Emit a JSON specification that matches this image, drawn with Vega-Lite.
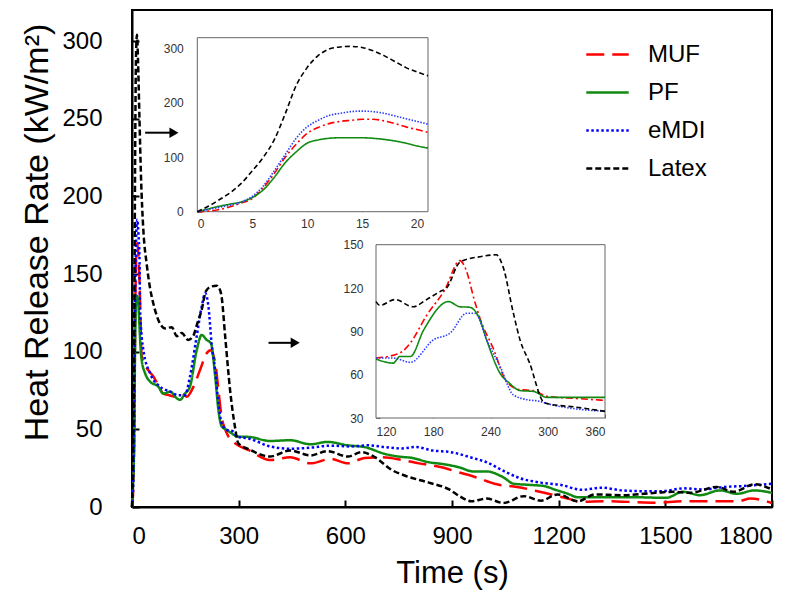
{
  "$schema": "https://vega.github.io/schema/vega-lite/v6.json",
  "width": 640,
  "height": 497,
  "autosize": {"type": "none"},
  "padding": {"left": 132, "top": 10, "right": 29, "bottom": 85},
  "background": "white",
  "config": {
    "font": "Liberation Sans",
    "view": {"stroke": "black", "strokeWidth": 2},
    "legend": {
      "orient": "none",
      "legendX": 453,
      "legendY": 22,
      "symbolType": "stroke",
      "symbolSize": 1800,
      "symbolStrokeWidth": 2.5,
      "labelFontSize": 24,
      "labelFont": "Liberation Sans",
      "labelColor": "black",
      "labelOffset": 18,
      "rowPadding": 3,
      "padding": 0
    }
  },
  "datasets": {
    "main": [
      {"s":"MUF","t":0,"v":0},{"s":"MUF","t":3,"v":9},{"s":"MUF","t":6,"v":44},{"s":"MUF","t":9,"v":124},{"s":"MUF","t":12,"v":162},{"s":"MUF","t":15,"v":170},{"s":"MUF","t":18,"v":162},{"s":"MUF","t":21,"v":146},{"s":"MUF","t":24,"v":120},{"s":"MUF","t":27,"v":98},{"s":"MUF","t":35,"v":92},{"s":"MUF","t":46,"v":88},{"s":"MUF","t":60,"v":84},{"s":"MUF","t":75,"v":78},{"s":"MUF","t":88,"v":73},{"s":"MUF","t":105,"v":72},{"s":"MUF","t":121,"v":71},{"s":"MUF","t":140,"v":73},{"s":"MUF","t":154,"v":71},{"s":"MUF","t":173,"v":77.5},{"s":"MUF","t":191,"v":88},{"s":"MUF","t":210,"v":99},{"s":"MUF","t":220,"v":101},{"s":"MUF","t":234,"v":93},{"s":"MUF","t":243,"v":75.5},{"s":"MUF","t":252,"v":58},{"s":"MUF","t":262,"v":50},{"s":"MUF","t":271,"v":45.5},{"s":"MUF","t":290,"v":41},{"s":"MUF","t":330,"v":36.4},{"s":"MUF","t":388,"v":30.3},{"s":"MUF","t":445,"v":32},{"s":"MUF","t":502,"v":28.1},{"s":"MUF","t":559,"v":31},{"s":"MUF","t":607,"v":28.1},{"s":"MUF","t":654,"v":31.6},{"s":"MUF","t":702,"v":32},{"s":"MUF","t":759,"v":30.3},{"s":"MUF","t":807,"v":28.1},{"s":"MUF","t":864,"v":25.9},{"s":"MUF","t":921,"v":22.2},{"s":"MUF","t":969,"v":19},{"s":"MUF","t":1026,"v":14.6},{"s":"MUF","t":1083,"v":12.9},{"s":"MUF","t":1140,"v":10.2},{"s":"MUF","t":1188,"v":7.6},{"s":"MUF","t":1226,"v":5.4},{"s":"MUF","t":1264,"v":3.3},{"s":"MUF","t":1330,"v":3.7},{"s":"MUF","t":1397,"v":3.3},{"s":"MUF","t":1473,"v":2.8},{"s":"MUF","t":1550,"v":3.7},{"s":"MUF","t":1616,"v":3.7},{"s":"MUF","t":1702,"v":3.7},{"s":"MUF","t":1740,"v":5.4},{"s":"MUF","t":1800,"v":2.6},
      {"s":"PF","t":0,"v":0},{"s":"PF","t":3,"v":14},{"s":"PF","t":6,"v":40},{"s":"PF","t":9,"v":110},{"s":"PF","t":12,"v":135},{"s":"PF","t":14,"v":136},{"s":"PF","t":17,"v":133},{"s":"PF","t":21,"v":117},{"s":"PF","t":23,"v":107},{"s":"PF","t":27,"v":95},{"s":"PF","t":37,"v":86},{"s":"PF","t":51,"v":80.7},{"s":"PF","t":74,"v":77.5},{"s":"PF","t":88,"v":73},{"s":"PF","t":107,"v":74.3},{"s":"PF","t":126,"v":70},{"s":"PF","t":135,"v":69},{"s":"PF","t":149,"v":73},{"s":"PF","t":163,"v":77.5},{"s":"PF","t":182,"v":101},{"s":"PF","t":196,"v":110.8},{"s":"PF","t":210,"v":107.6},{"s":"PF","t":222,"v":105.4},{"s":"PF","t":234,"v":84},{"s":"PF","t":243,"v":62.5},{"s":"PF","t":252,"v":52},{"s":"PF","t":266,"v":49.7},{"s":"PF","t":280,"v":47.5},{"s":"PF","t":295,"v":45.4},{"s":"PF","t":330,"v":45.1},{"s":"PF","t":388,"v":42.5},{"s":"PF","t":445,"v":43},{"s":"PF","t":502,"v":40.4},{"s":"PF","t":550,"v":41.9},{"s":"PF","t":607,"v":39.7},{"s":"PF","t":654,"v":38.6},{"s":"PF","t":711,"v":34.2},{"s":"PF","t":749,"v":32.5},{"s":"PF","t":788,"v":31.6},{"s":"PF","t":835,"v":28.8},{"s":"PF","t":873,"v":27.7},{"s":"PF","t":921,"v":25.5},{"s":"PF","t":959,"v":22.9},{"s":"PF","t":997,"v":22.9},{"s":"PF","t":1045,"v":19},{"s":"PF","t":1073,"v":15},{"s":"PF","t":1121,"v":14.2},{"s":"PF","t":1159,"v":13.5},{"s":"PF","t":1188,"v":11.3},{"s":"PF","t":1226,"v":8.5},{"s":"PF","t":1254,"v":6.3},{"s":"PF","t":1330,"v":6.3},{"s":"PF","t":1406,"v":6.3},{"s":"PF","t":1502,"v":5.9},{"s":"PF","t":1550,"v":9.8},{"s":"PF","t":1597,"v":7.6},{"s":"PF","t":1654,"v":10.7},{"s":"PF","t":1702,"v":8.5},{"s":"PF","t":1750,"v":10.7},{"s":"PF","t":1800,"v":9.1},
      {"s":"eMDI","t":0,"v":0},{"s":"eMDI","t":3,"v":12},{"s":"eMDI","t":6,"v":47},{"s":"eMDI","t":9,"v":135},{"s":"eMDI","t":12,"v":177},{"s":"eMDI","t":15,"v":185},{"s":"eMDI","t":18,"v":176},{"s":"eMDI","t":21,"v":161},{"s":"eMDI","t":23,"v":125},{"s":"eMDI","t":32,"v":101},{"s":"eMDI","t":51,"v":86},{"s":"eMDI","t":79,"v":77.5},{"s":"eMDI","t":107,"v":74.3},{"s":"eMDI","t":130,"v":72},{"s":"eMDI","t":149,"v":72},{"s":"eMDI","t":163,"v":84},{"s":"eMDI","t":182,"v":110},{"s":"eMDI","t":196,"v":129},{"s":"eMDI","t":206,"v":137.6},{"s":"eMDI","t":215,"v":129},{"s":"eMDI","t":224,"v":105},{"s":"eMDI","t":234,"v":88},{"s":"eMDI","t":243,"v":67},{"s":"eMDI","t":252,"v":54},{"s":"eMDI","t":266,"v":49.7},{"s":"eMDI","t":285,"v":48.6},{"s":"eMDI","t":295,"v":45.4},{"s":"eMDI","t":330,"v":44},{"s":"eMDI","t":388,"v":39},{"s":"eMDI","t":445,"v":37.5},{"s":"eMDI","t":502,"v":38.2},{"s":"eMDI","t":559,"v":39.5},{"s":"eMDI","t":616,"v":39},{"s":"eMDI","t":664,"v":39.7},{"s":"eMDI","t":711,"v":38.6},{"s":"eMDI","t":759,"v":37.7},{"s":"eMDI","t":797,"v":38.6},{"s":"eMDI","t":845,"v":36.4},{"s":"eMDI","t":902,"v":35.1},{"s":"eMDI","t":950,"v":32.1},{"s":"eMDI","t":997,"v":28.8},{"s":"eMDI","t":1054,"v":22.2},{"s":"eMDI","t":1092,"v":18.5},{"s":"eMDI","t":1150,"v":15.7},{"s":"eMDI","t":1207,"v":14.2},{"s":"eMDI","t":1264,"v":11.1},{"s":"eMDI","t":1321,"v":12.4},{"s":"eMDI","t":1378,"v":10.7},{"s":"eMDI","t":1436,"v":10.2},{"s":"eMDI","t":1492,"v":10.2},{"s":"eMDI","t":1550,"v":12},{"s":"eMDI","t":1607,"v":11.3},{"s":"eMDI","t":1664,"v":12.9},{"s":"eMDI","t":1721,"v":13.5},{"s":"eMDI","t":1800,"v":15},
      {"s":"Latex","t":0,"v":0},{"s":"Latex","t":3,"v":35},{"s":"Latex","t":6,"v":100},{"s":"Latex","t":9,"v":232},{"s":"Latex","t":11,"v":287},{"s":"Latex","t":14,"v":304},{"s":"Latex","t":17,"v":287},{"s":"Latex","t":21,"v":250},{"s":"Latex","t":25,"v":215},{"s":"Latex","t":32,"v":178},{"s":"Latex","t":41,"v":157},{"s":"Latex","t":50,"v":142},{"s":"Latex","t":60,"v":131},{"s":"Latex","t":79,"v":118},{"s":"Latex","t":93,"v":115},{"s":"Latex","t":112,"v":115.8},{"s":"Latex","t":126,"v":110},{"s":"Latex","t":140,"v":112},{"s":"Latex","t":158,"v":107.6},{"s":"Latex","t":172,"v":110},{"s":"Latex","t":182,"v":117},{"s":"Latex","t":196,"v":127},{"s":"Latex","t":208,"v":139},{"s":"Latex","t":224,"v":142},{"s":"Latex","t":238,"v":142.5},{"s":"Latex","t":245,"v":141},{"s":"Latex","t":252,"v":135.5},{"s":"Latex","t":262,"v":110},{"s":"Latex","t":276,"v":75},{"s":"Latex","t":290,"v":51},{"s":"Latex","t":299,"v":41},{"s":"Latex","t":330,"v":37},{"s":"Latex","t":388,"v":32.5},{"s":"Latex","t":445,"v":36.4},{"s":"Latex","t":502,"v":33.2},{"s":"Latex","t":550,"v":36},{"s":"Latex","t":607,"v":32.5},{"s":"Latex","t":645,"v":35.3},{"s":"Latex","t":683,"v":32.1},{"s":"Latex","t":731,"v":23.8},{"s":"Latex","t":769,"v":20.1},{"s":"Latex","t":835,"v":15.7},{"s":"Latex","t":892,"v":11.3},{"s":"Latex","t":921,"v":7},{"s":"Latex","t":954,"v":3.7},{"s":"Latex","t":997,"v":5.4},{"s":"Latex","t":1045,"v":2.6},{"s":"Latex","t":1102,"v":7},{"s":"Latex","t":1150,"v":4.1},{"s":"Latex","t":1197,"v":8.1},{"s":"Latex","t":1254,"v":3.7},{"s":"Latex","t":1302,"v":8.1},{"s":"Latex","t":1378,"v":7.6},{"s":"Latex","t":1473,"v":9.1},{"s":"Latex","t":1521,"v":9.8},{"s":"Latex","t":1569,"v":9.1},{"s":"Latex","t":1645,"v":12.9},{"s":"Latex","t":1692,"v":9.8},{"s":"Latex","t":1750,"v":14.6},{"s":"Latex","t":1800,"v":11.3}
    ],
    "in1": [
      {"s":"MUF","t":0,"v":0},{"s":"MUF","t":1,"v":1},{"s":"MUF","t":2,"v":4},{"s":"MUF","t":3,"v":9},{"s":"MUF","t":4,"v":16},{"s":"MUF","t":5,"v":24},{"s":"MUF","t":6,"v":44},{"s":"MUF","t":7,"v":70},{"s":"MUF","t":8,"v":100},{"s":"MUF","t":9,"v":124},{"s":"MUF","t":10,"v":144},{"s":"MUF","t":11,"v":155},{"s":"MUF","t":12,"v":162},{"s":"MUF","t":13,"v":166},{"s":"MUF","t":14,"v":168},{"s":"MUF","t":15,"v":170},{"s":"MUF","t":16,"v":170},{"s":"MUF","t":17,"v":167},{"s":"MUF","t":18,"v":162},{"s":"MUF","t":19,"v":156},{"s":"MUF","t":20,"v":151},{"s":"MUF","t":21,"v":146},
      {"s":"PF","t":0,"v":0},{"s":"PF","t":1,"v":5},{"s":"PF","t":2,"v":10},{"s":"PF","t":3,"v":14},{"s":"PF","t":4,"v":18},{"s":"PF","t":5,"v":26},{"s":"PF","t":6,"v":40},{"s":"PF","t":7,"v":63},{"s":"PF","t":8,"v":90},{"s":"PF","t":9,"v":110},{"s":"PF","t":10,"v":126},{"s":"PF","t":11,"v":132},{"s":"PF","t":12,"v":135},{"s":"PF","t":13,"v":136},{"s":"PF","t":14,"v":136},{"s":"PF","t":15,"v":136},{"s":"PF","t":16,"v":135},{"s":"PF","t":17,"v":133},{"s":"PF","t":18,"v":130},{"s":"PF","t":19,"v":126},{"s":"PF","t":20,"v":121},{"s":"PF","t":21,"v":117},
      {"s":"eMDI","t":0,"v":0},{"s":"eMDI","t":1,"v":4},{"s":"eMDI","t":2,"v":8},{"s":"eMDI","t":3,"v":12},{"s":"eMDI","t":4,"v":18},{"s":"eMDI","t":5,"v":28},{"s":"eMDI","t":6,"v":47},{"s":"eMDI","t":7,"v":75},{"s":"eMDI","t":8,"v":105},{"s":"eMDI","t":9,"v":135},{"s":"eMDI","t":10,"v":156},{"s":"eMDI","t":11,"v":168},{"s":"eMDI","t":12,"v":177},{"s":"eMDI","t":13,"v":181},{"s":"eMDI","t":14,"v":184},{"s":"eMDI","t":15,"v":185},{"s":"eMDI","t":16,"v":184},{"s":"eMDI","t":17,"v":181},{"s":"eMDI","t":18,"v":176},{"s":"eMDI","t":19,"v":171},{"s":"eMDI","t":20,"v":166},{"s":"eMDI","t":21,"v":161},
      {"s":"Latex","t":0,"v":0},{"s":"Latex","t":1,"v":10},{"s":"Latex","t":2,"v":22},{"s":"Latex","t":3,"v":35},{"s":"Latex","t":4,"v":52},{"s":"Latex","t":5,"v":75},{"s":"Latex","t":6,"v":100},{"s":"Latex","t":7,"v":132},{"s":"Latex","t":8,"v":180},{"s":"Latex","t":9,"v":232},{"s":"Latex","t":10,"v":265},{"s":"Latex","t":11,"v":287},{"s":"Latex","t":12,"v":299},{"s":"Latex","t":13,"v":303},{"s":"Latex","t":14,"v":304},{"s":"Latex","t":15,"v":302},{"s":"Latex","t":16,"v":296},{"s":"Latex","t":17,"v":287},{"s":"Latex","t":18,"v":276},{"s":"Latex","t":19,"v":265},{"s":"Latex","t":20,"v":257},{"s":"Latex","t":21,"v":250}
    ],
    "in2": [
      {"s":"MUF","t":120,"v":71.5},{"s":"MUF","t":145,"v":75},{"s":"MUF","t":156,"v":82},{"s":"MUF","t":173,"v":101},{"s":"MUF","t":192,"v":118.7},{"s":"MUF","t":208,"v":139},{"s":"MUF","t":213,"v":134.8},{"s":"MUF","t":224,"v":109.5},{"s":"MUF","t":229,"v":99},{"s":"MUF","t":243,"v":78},{"s":"MUF","t":257,"v":55},{"s":"MUF","t":271,"v":49.6},{"s":"MUF","t":285,"v":49},{"s":"MUF","t":299,"v":45},{"s":"MUF","t":330,"v":43.5},{"s":"MUF","t":360,"v":42.2},
      {"s":"PF","t":120,"v":70.8},{"s":"PF","t":138,"v":68},{"s":"PF","t":145,"v":72.6},{"s":"PF","t":156,"v":72.6},{"s":"PF","t":170,"v":91},{"s":"PF","t":196,"v":110.6},{"s":"PF","t":208,"v":107},{"s":"PF","t":218,"v":106.7},{"s":"PF","t":229,"v":98},{"s":"PF","t":236,"v":84},{"s":"PF","t":250,"v":61},{"s":"PF","t":260,"v":54},{"s":"PF","t":271,"v":49},{"s":"PF","t":285,"v":48.4},{"s":"PF","t":299,"v":44.3},{"s":"PF","t":360,"v":44.3},
      {"s":"eMDI","t":120,"v":71.5},{"s":"eMDI","t":138,"v":71.5},{"s":"eMDI","t":156,"v":68.5},{"s":"eMDI","t":180,"v":84},{"s":"eMDI","t":198,"v":89},{"s":"eMDI","t":215,"v":102.5},{"s":"eMDI","t":224,"v":102.5},{"s":"eMDI","t":236,"v":84},{"s":"eMDI","t":250,"v":65.7},{"s":"eMDI","t":264,"v":46},{"s":"eMDI","t":278,"v":42.7},{"s":"eMDI","t":292,"v":41.5},{"s":"eMDI","t":299,"v":40},{"s":"eMDI","t":360,"v":34.6},
      {"s":"Latex","t":120,"v":110.6},{"s":"Latex","t":124,"v":108},{"s":"Latex","t":140,"v":112},{"s":"Latex","t":159,"v":107},{"s":"Latex","t":173,"v":112},{"s":"Latex","t":187,"v":117.5},{"s":"Latex","t":194,"v":120},{"s":"Latex","t":208,"v":138},{"s":"Latex","t":229,"v":141.7},{"s":"Latex","t":246,"v":143},{"s":"Latex","t":253,"v":135},{"s":"Latex","t":264,"v":102.5},{"s":"Latex","t":271,"v":84},{"s":"Latex","t":281,"v":68},{"s":"Latex","t":295,"v":41.5},{"s":"Latex","t":299,"v":40},{"s":"Latex","t":330,"v":37.5},{"s":"Latex","t":360,"v":34.6}
    ],
    "arrows": [
      {"a": "inset1", "from": 37, "to": 118, "level": 241},
      {"a": "inset2", "from": 384, "to": 459, "level": 105.7}
    ]
  },
  "layer": [
    {
      "layer": [
        {
          "data": {"name": "main"},
          "mark": {"type": "line", "strokeWidth": 2.5, "interpolate": "monotone"},
          "encoding": {
            "x": {"field": "t", "type": "quantitative", "title": "Time (s)",
              "scale": {"domain": [0, 1800], "nice": false},
              "axis": {"values": [0,300,600,900,1200,1500,1800], "format": "d", "grid": false, "tickSize": -7, "tickWidth": 2, "tickColor": "black", "domainColor": "black", "domainWidth": 2, "labelFontSize": 24, "labelColor": "black", "labelPadding": 24, "titleFontSize": 31, "titleFontWeight": "normal", "titleColor": "black", "titlePadding": 10}},
            "y": {"field": "v", "type": "quantitative", "title": "Heat Release Rate (kW/m²)",
              "scale": {"domain": [0, 320], "nice": false},
              "axis": {"values": [0,50,100,150,200,250,300], "format": "d", "grid": false, "tickSize": -7, "tickWidth": 2, "tickColor": "black", "domainColor": "black", "domainWidth": 2, "labelFontSize": 24, "labelColor": "black", "labelPadding": 37, "titleFontSize": 34, "titleFontWeight": "normal", "titleColor": "black", "titlePadding": 7, "titleY": 222}},
            "color": {"field": "s", "type": "nominal", "title": null,
              "scale": {"domain": ["MUF","PF","eMDI","Latex"], "range": ["#ff0000","#108a10","#0000ff","#000000"]}},
            "strokeDash": {"field": "s", "type": "nominal", "title": null,
              "scale": {"domain": ["MUF","PF","eMDI","Latex"], "range": [[18,8],[1,0],[2.5,2.5],[6,3]]}}
          }
        },
        {
          "data": {"name": "arrows"},
          "mark": {"type": "rule", "strokeWidth": 2, "color": "black"},
          "encoding": {
            "x": {"field": "from", "type": "quantitative", "title": "Time (s)"},
            "x2": {"field": "to"},
            "y": {"field": "level", "type": "quantitative", "title": "Heat Release Rate (kW/m²)"}
          }
        },
        {
          "data": {"name": "arrows"},
          "mark": {"type": "point", "shape": "triangle-right", "filled": true, "color": "black", "size": 110, "opacity": 1},
          "encoding": {
            "x": {"field": "to", "type": "quantitative", "title": "Time (s)"},
            "y": {"field": "level", "type": "quantitative", "title": "Heat Release Rate (kW/m²)"}
          }
        }
      ]
    },
    {
      "layer": [
        {
          "data": {"values": [{}]},
          "mark": {"type": "rect", "fill": "white", "stroke": "#666666", "strokeWidth": 1},
          "encoding": {
            "x": {"datum": 0, "type": "quantitative"},
            "x2": {"datum": 21},
            "y": {"datum": 0, "type": "quantitative"},
            "y2": {"datum": 320}
          }
        },
        {
          "data": {"name": "in1"},
          "mark": {"type": "line", "strokeWidth": 1.6, "interpolate": "monotone"},
          "encoding": {
            "x": {"field": "t", "type": "quantitative"},
            "y": {"field": "v", "type": "quantitative"},
            "color": {"field": "s", "type": "nominal", "legend": null,
              "scale": {"domain": ["MUF","PF","eMDI","Latex"], "range": ["#ff0000","#108a10","#2a3cff","#000000"]}},
            "strokeDash": {"field": "s", "type": "nominal", "legend": null,
              "scale": {"domain": ["MUF","PF","eMDI","Latex"], "range": [[7,3,2,3],[1,0],[1.5,1.5],[5,3]]}}
          }
        }
      ],
      "encoding": {
        "x": {"type": "quantitative", "title": null,
          "scale": {"domain": [0, 21], "range": [65.3, 296], "nice": false, "zero": false},
          "axis": {"orient": "bottom", "offset": -295.3, "values": [0,5,10,15,20], "grid": false, "domain": false, "tickSize": -4, "tickColor": "#666666", "labelFontSize": 12, "labelColor": "#333333", "labelPadding": 11}},
        "y": {"type": "quantitative", "title": null,
          "scale": {"domain": [0, 320], "range": [201.7, 27.7], "nice": false, "zero": false},
          "axis": {"orient": "left", "offset": -65.3, "values": [0,100,200,300], "grid": false, "domain": false, "tickSize": -4, "tickColor": "#666666", "labelFontSize": 12, "labelColor": "#333333", "labelPadding": 18}}
      }
    },
    {
      "layer": [
        {
          "data": {"values": [{}]},
          "mark": {"type": "rect", "fill": "white", "stroke": "#666666", "strokeWidth": 1},
          "encoding": {
            "x": {"datum": 120, "type": "quantitative"},
            "x2": {"datum": 360},
            "y": {"datum": 30, "type": "quantitative"},
            "y2": {"datum": 150}
          }
        },
        {
          "data": {"name": "in2"},
          "mark": {"type": "line", "strokeWidth": 1.6, "interpolate": "monotone"},
          "encoding": {
            "x": {"field": "t", "type": "quantitative"},
            "y": {"field": "v", "type": "quantitative"},
            "color": {"field": "s", "type": "nominal", "legend": null,
              "scale": {"domain": ["MUF","PF","eMDI","Latex"], "range": ["#ff0000","#108a10","#2a3cff","#000000"]}},
            "strokeDash": {"field": "s", "type": "nominal", "legend": null,
              "scale": {"domain": ["MUF","PF","eMDI","Latex"], "range": [[7,3,2,3],[1,0],[1.5,1.5],[5,3]]}}
          }
        }
      ],
      "encoding": {
        "x": {"type": "quantitative", "title": null,
          "scale": {"domain": [120, 360], "range": [244, 473], "nice": false, "zero": false},
          "axis": {"orient": "bottom", "offset": -89, "values": [120,180,240,300,360], "grid": false, "domain": false, "tickSize": -4, "tickColor": "#666666", "labelFontSize": 12, "labelColor": "#333333", "labelPadding": 12}},
        "y": {"type": "quantitative", "title": null,
          "scale": {"domain": [30, 150], "range": [408, 234.7], "nice": false, "zero": false},
          "axis": {"orient": "left", "offset": -244, "values": [30,60,90,120,150], "grid": false, "domain": false, "tickSize": -4, "tickColor": "#666666", "labelFontSize": 12, "labelColor": "#333333", "labelPadding": 17}}
      }
    }
  ],
  "resolve": {
    "scale": {"x": "independent", "y": "independent", "color": "independent", "strokeDash": "independent"},
    "axis": {"x": "independent", "y": "independent"}
  }
}
